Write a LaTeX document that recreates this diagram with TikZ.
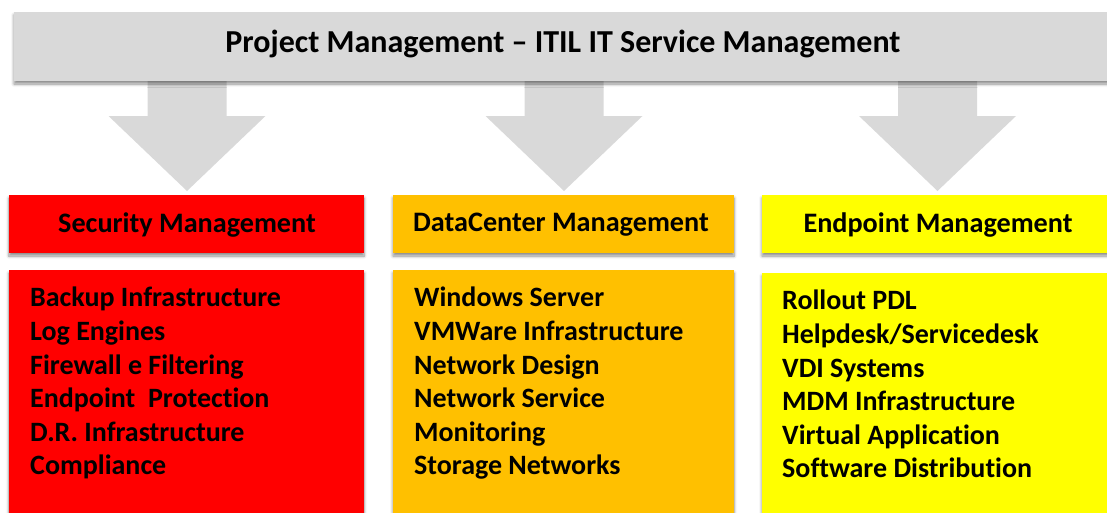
\documentclass[tikz,border=0pt]{standalone}
\usepackage{fontspec}
\setmainfont{Carlito}[Ligatures=NoCommon]
\usetikzlibrary{shadows.blur}

\definecolor{bannergray}{HTML}{D9D9D9}
\definecolor{secred}{HTML}{FF0000}
\definecolor{dcorange}{HTML}{FFC000}
\definecolor{epyellow}{HTML}{FFFF00}

\tikzset{
	softshadow/.style={blur shadow={shadow xshift=0pt,shadow yshift=-3pt,shadow blur steps=6,shadow opacity=45,shadow blur radius=3pt}},
	headtext/.style={font=\fontsize{28.2}{32}\selectfont\bfseries,anchor=center},
	listtext/.style={font=\fontsize{28}{33.6}\selectfont\bfseries,anchor=north west,align=left,inner sep=0pt}
}

\begin{document}
\begin{tikzpicture}[x=1pt,y=-1pt]
	\useasboundingbox (0,0) rectangle (1107,512);
	
	% block arrows
	\foreach \cx in {187,564,937.5}{
		\fill[bannergray] ({\cx-39.5},70)--({\cx+39.5},70)--({\cx+39.5},116)--({\cx+78.5},116)
			--(\cx,191)--({\cx-78.5},116)--({\cx-39.5},116)--cycle;
	}
	
	% banner
	\fill[bannergray,softshadow](14,12) rectangle (1120,81);
	\node (title) at(563,43.5)[font=\fontsize{32}{36}\selectfont\bfseries]{Project Management -- ITIL IT Service Management};
	
	% security
	\fill[secred,softshadow](9,195) rectangle (364,253);
	\fill[secred,softshadow](9,270) rectangle (364,520);
	\node (sechead) at(187,224.5)[headtext]{Security Management};
	\node (seclist) at(30,287)[listtext]{Backup Infrastructure\\Log Engines\\Firewall e Filtering\\Endpoint\ \ Protection\\D.R. Infrastructure\\Compliance};
	
	% datacenter
	\fill[dcorange,softshadow](393,195) rectangle (734,253);
	\fill[dcorange,softshadow](393,270) rectangle (734,520);
	\node (dchead) at(561,224.5)[headtext]{DataCenter Management};
	\node (dclist) at(414,287)[listtext]{Windows Server\\VMWare Infrastructure\\Network Design\\Network Service\\Monitoring\\Storage Networks};
	
	% endpoint
	\fill[epyellow,softshadow](762,195) rectangle (1120,253);
	\fill[epyellow,softshadow](762,273) rectangle (1120,520);
	\node (ephead) at(938,224.5)[headtext]{Endpoint Management};
	\node (eplist) at(782,290)[listtext]{Rollout PDL\\Helpdesk/Servicedesk\\VDI Systems\\MDM Infrastructure\\Virtual Application\\Software Distribution};
	
\end{tikzpicture}
\end{document}
